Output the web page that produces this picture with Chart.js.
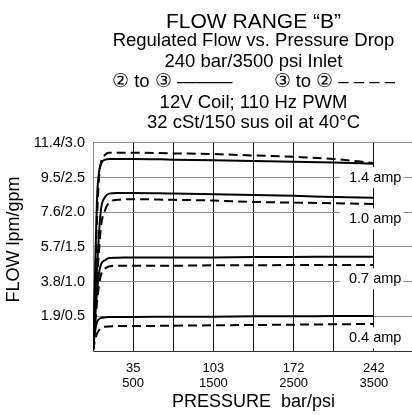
<!DOCTYPE html>
<html>
<head>
<meta charset="utf-8">
<script src="https://cdn.jsdelivr.net/npm/chart.js@4.4.1/dist/chart.umd.min.js"></script>
<style>
html, body { margin: 0; padding: 0; background: #fff; overflow: hidden; }
#wrap { position: relative; width: 424px; height: 415px; }
</style>
</head>
<body>
<div id="wrap"><canvas id="myChart"></canvas></div>
<script>
// pressure drop (psi) sample points, shared by every curve
var psi = [0, 25, 50, 75, 100, 150, 200, 300, 500, 1000, 1500, 2000, 2500, 3000, 3500]

// flow (gpm), "2 to 3" solid curves
var solid14 = [0, 1.1, 2.2, 2.58, 2.7, 2.76, 2.77, 2.77, 2.77, 2.76, 2.75, 2.74, 2.73, 2.72, 2.70]
var solid10 = [0, 0.6, 1.2, 1.7, 2.05, 2.22, 2.27, 2.28, 2.28, 2.27, 2.26, 2.25, 2.24, 2.22, 2.21]
var solid07 = [0, 0.45, 0.85, 1.12, 1.25, 1.31, 1.34, 1.345, 1.35, 1.35, 1.35, 1.355, 1.355, 1.36, 1.36]
var solid04 = [0, 0.28, 0.42, 0.46, 0.475, 0.485, 0.49, 0.49, 0.49, 0.495, 0.495, 0.5, 0.5, 0.505, 0.505]

// flow (gpm), "3 to 2" dashed curves
var dashed14 = [0, 0.9, 1.9, 2.5, 2.72, 2.83, 2.86, 2.86, 2.86, 2.85, 2.84, 2.82, 2.80, 2.77, 2.71]
var dashed10 = [0, 0.5, 1.0, 1.45, 1.8, 2.03, 2.14, 2.18, 2.19, 2.18, 2.17, 2.15, 2.14, 2.13, 2.12]
var dashed07 = [0, 0.35, 0.7, 0.95, 1.1, 1.19, 1.22, 1.23, 1.23, 1.23, 1.235, 1.235, 1.24, 1.24, 1.24]
var dashed04 = [0, 0.15, 0.25, 0.3, 0.33, 0.35, 0.355, 0.36, 0.36, 0.365, 0.37, 0.375, 0.38, 0.385, 0.39]

// tick labels
var xTickPsi = [500, 1500, 2500, 3500]
var xTickBar = ['35', '103', '172', '242']
var yTickGpm = [0.5, 1.0, 1.5, 2.0, 2.5, 3.0]
var yTickLabels = ['1.9/0.5', '3.8/1.0', '5.7/1.5', '7.6/2.0', '9.5/2.5', '11.4/3.0']

// coil current labels on the right
var ampLabels = ['1.4 amp', '1.0 amp', '0.7 amp', '0.4 amp']
var ampLabelY = [2.5, 1.905, 1.04, 0.19]
var ampLabelX = 3190

var FONT = '"Liberation Sans", Arial, Helvetica, sans-serif'
Chart.defaults.font.family = FONT
Chart.defaults.color = '#000'

function toPoints(values) {
    return psi.map(function (p, i) { return { x: p, y: values[i] } })
}

function curve(values, dashed) {
    return {
        data: toPoints(values),
        borderColor: '#000',
        borderWidth: 2,
        borderDash: dashed ? [9, 5] : [],
        pointRadius: 0,
        fill: false,
        cubicInterpolationMode: 'monotone'
    }
}

// white-boxed current labels sitting on the right edge of the grid
var ampLabelPlugin = {
    id: 'ampLabels',
    afterDatasetsDraw: function (chart) {
        var ctx = chart.ctx
        var xs = chart.scales.x
        var ys = chart.scales.y
        ctx.save()
        ctx.font = '14.5px ' + FONT
        ctx.textBaseline = 'middle'
        ctx.textAlign = 'left'
        ampLabels.forEach(function (txt, i) {
            var x = xs.getPixelForValue(ampLabelX)
            var y = ys.getPixelForValue(ampLabelY[i])
            var w = ctx.measureText(txt).width
            ctx.fillStyle = '#fff'
            ctx.fillRect(x - 9, y - 10.5, w + 11, 21)
            ctx.fillStyle = '#000'
            ctx.fillText(txt, x, y)
        })
        ctx.restore()
    }
}

var myChart = document.getElementById('myChart').getContext('2d')

var chart = new Chart(myChart, {
    type: 'line',
    data: {
        datasets: [
            curve(solid14, false), curve(dashed14, true),
            curve(solid10, false), curve(dashed10, true),
            curve(solid07, false), curve(dashed07, true),
            curve(solid04, false), curve(dashed04, true)
        ]
    },
    options: {
        responsive: true,
        maintainAspectRatio: false,
        animation: false,
        layout: { padding: 0 },
        plugins: {
            legend: { display: false },
            tooltip: { enabled: false },
            title: {
                display: true,
                fullSize: false,
                text: 'FLOW RANGE \u201CB\u201D',
                font: { size: 21, weight: 'normal', lineHeight: 0.857 },
                padding: { top: 13, bottom: 0 },
                color: '#000'
            },
            subtitle: {
                display: true,
                fullSize: false,
                text: [
                    'Regulated Flow vs. Pressure Drop',
                    '240 bar/3500 psi Inlet',
                    '\u2461 to \u2462 \u2014\u2014\u2014        \u2462 to \u2461 \u2013 \u2013 \u2013 \u2013',
                    '12V Coil; 110 Hz PWM',
                    '32 cSt/150 sus oil at 40\u00B0C'
                ],
                font: { size: 18.5, weight: 'normal', lineHeight: 1.108 },
                padding: { top: 0, bottom: 9.5 },
                color: '#000'
            }
        },
        scales: {
            x: {
                type: 'linear',
                min: 0,
                max: 4000,
                afterFit: function (scale) { scale.height = 64 },
                grid: { color: '#111', lineWidth: 1, drawTicks: false },
                border: { display: true, color: '#333' },
                ticks: {
                    stepSize: 500,
                    autoSkip: false,
                    maxRotation: 0,
                    padding: 10,
                    font: { size: 13, lineHeight: 1.15 },
                    color: '#000',
                    callback: function (value) {
                        var i = xTickPsi.indexOf(value)
                        return i < 0 ? '' : [xTickBar[i], String(xTickPsi[i])]
                    }
                },
                title: {
                    display: true,
                    text: 'PRESSURE  bar/psi',
                    font: { size: 18, lineHeight: 1.2 },
                    padding: { top: 0.8, bottom: 2.2 },
                    color: '#000'
                }
            },
            y: {
                min: 0,
                max: 3.0,
                afterFit: function (scale) { scale.width = 93 },
                grid: { color: '#8c8c8c', lineWidth: 1, drawTicks: false },
                border: { display: true, color: '#8c8c8c' },
                ticks: {
                    stepSize: 0.5,
                    padding: 8,
                    font: { size: 14.5 },
                    color: '#000',
                    callback: function (value) {
                        var i = yTickGpm.indexOf(Math.round(value * 10) / 10)
                        return i < 0 ? '' : yTickLabels[i]
                    }
                },
                title: {
                    display: true,
                    text: '   FLOW lpm/gpm',
                    font: { size: 18, lineHeight: 1.2 },
                    padding: { top: 3.2, bottom: 14 },
                    color: '#000'
                }
            }
        }
    },
    plugins: [ampLabelPlugin]
})
</script>
</body>
</html>
